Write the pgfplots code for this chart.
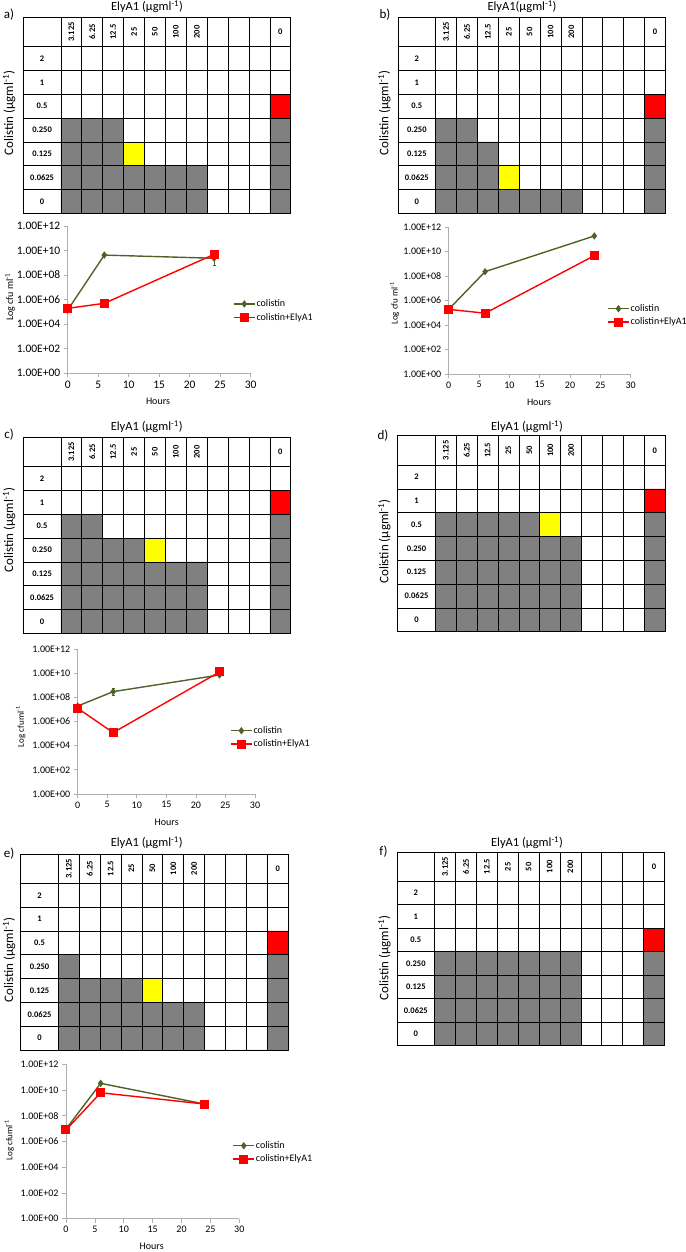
\documentclass[border=0pt]{standalone}
\usepackage{fontspec}
\setmainfont{Carlito}
\usepackage{pgfplots}
\pgfplotsset{compat=1.18}

\definecolor{cellgray}{RGB}{128,128,128}
\definecolor{cellyel}{RGB}{255,255,0}
\definecolor{cellred}{RGB}{255,0,0}
\definecolor{colgreen}{RGB}{79,98,40}
\definecolor{colred}{RGB}{255,0,0}
\definecolor{axgray}{RGB}{175,175,175}

\newcommand{\fs}[1]{\fontsize{#1}{#1}\selectfont}

\pgfplotsset{
  legend image code/.code={
    \draw[#1, mark=none] (0pt,0pt) -- (21pt,0pt);
    \draw[#1] plot coordinates {(10.5pt,0pt)};
  },
}
\pgfplotsset{
  checker/.style={
    scale only axis, width=267.5pt, height=196pt,
    xmin=-1.8, xmax=11, ymin=0, ymax=8.235,
    xtick={0,...,10}, ytick={1,...,7},
    xticklabels={}, yticklabels={},
    major tick length=0pt,
    grid=major, grid style={black, line width=0.7pt},
    axis line style={black, line width=0.8pt},
    axis on top, clip=false,
    after end axis/.code={
      \foreach \lab [count=\i from 0] in {3.125,6.25,12.5,25,50,100,200} {
        \pgfmathsetmacro\xx{\i+0.5}
        \node[rotate=90, font=\fs{8.5}\bfseries] at (axis cs:\xx,7.62) {\lab};
      }
      \node[font=\fs{8.5}\bfseries] at (axis cs:10.5,7.62) {0};
      \foreach \lab [count=\j from 0] in {0,0.0625,0.125,0.250,0.5,1,2} {
        \pgfmathsetmacro\yy{\j+0.5}
        \node[font=\fs{8.5}\bfseries] at (axis cs:-0.9,\yy) {\lab};
      }
    },
  },
  % growth curves: y holds log10(cfu/ml), labelled as in the original
  growth/.style={
    scale only axis,
    xmin=0, xmax=30, ymin=0, ymax=12,
    xtick={0,5,...,30},
    ytick={0,2,...,12},
    yticklabels={1.00E+00,1.00E+02,1.00E+04,1.00E+06,1.00E+08,1.00E+10,1.00E+12},
    axis x line*=bottom, axis y line*=left,
    axis line style={axgray, line width=0.7pt},
    tick style={axgray, line width=0.7pt},
    tick align=outside, major tick length=4pt,
    clip=false,
    legend style={draw=none, fill=none, anchor=west, inner sep=0pt,
      row sep=3pt, font=\fs{10}, nodes={inner sep=1pt}},
    legend cell align=left,
    /pgf/number format/assume math mode=true,
  },
  colline/.style={colgreen, line width=1.4pt, mark=diamond*, mark size=2.6pt},
  comboline/.style={colred, line width=1.4pt, mark=square*, mark size=3.8pt},
  errs/.style={error bars/.cd, y dir=both, y explicit,
    error bar style={colgreen, line width=0.6pt},
    error mark options={colgreen, line width=0.6pt, mark size=1.5pt, rotate=90}},
}

\begin{document}
\begin{tikzpicture}[x=1pt, y=1pt]
\useasboundingbox (0,0) rectangle (685,1252);

% ---------- a) ----------
\begin{axis}[checker, at={(23.3pt,1038.7pt)}]
\addplot[const plot, fill=cellgray, draw=none] coordinates {(0,4) (1,4) (2,4) (3,2) (4,2) (5,2) (6,2) (7,0) (8,0) (9,0) (10,4) (11,4)} \closedcycle;
\addplot[fill=cellyel, draw=none] coordinates {(3,2) (4,2) (4,3) (3,3) (3,2)};
\addplot[fill=cellred, draw=none] coordinates {(10,4) (11,4) (11,5) (10,5) (10,4)};
\end{axis}

\begin{axis}[growth, at={(67.7pt,878.7pt)}, width=183pt, height=147.3pt,
  tick label style={font=\fs{11.5}},
  legend style={at={(0.903,0.425)}}]
\addplot[colline, errs] coordinates {(0,5.15) +- (0,0) (6,9.63) +- (0,0) (24,9.37) += (0,0.67) -= (0,0.61)};
\addplot[comboline] coordinates {(0,5.29) (6,5.70) (24,9.69)};
\legend{colistin,colistin+ElyA1}
\end{axis}

% ---------- b) ----------
\begin{axis}[checker, at={(398pt,1038.7pt)}]
\addplot[const plot, fill=cellgray, draw=none] coordinates {(0,4) (1,4) (2,3) (3,1) (4,1) (5,1) (6,1) (7,0) (8,0) (9,0) (10,4) (11,4)} \closedcycle;
\addplot[fill=cellyel, draw=none] coordinates {(3,1) (4,1) (4,2) (3,2) (3,1)};
\addplot[fill=cellred, draw=none] coordinates {(10,4) (11,4) (11,5) (10,5) (10,4)};
\end{axis}

\begin{axis}[growth, at={(448.7pt,878pt)}, width=182pt, height=146.7pt,
  tick label style={font=\fs{10}},
  legend style={at={(0.870,0.399)}}]
\addplot[colline] coordinates {(0,5.29) (6,8.37) (24,11.29)};
\addplot[comboline] coordinates {(0,5.29) (6,4.97) (24,9.68)};
\legend{colistin,colistin+ElyA1}
\end{axis}

% ---------- c) ----------
\begin{axis}[checker, at={(23.3pt,618.7pt)}]
\addplot[const plot, fill=cellgray, draw=none] coordinates {(0,5) (1,5) (2,4) (3,4) (4,3) (5,3) (6,3) (7,0) (8,0) (9,0) (10,5) (11,5)} \closedcycle;
\addplot[fill=cellyel, draw=none] coordinates {(4,3) (5,3) (5,4) (4,4) (4,3)};
\addplot[fill=cellred, draw=none] coordinates {(10,5) (11,5) (11,6) (10,6) (10,5)};
\end{axis}

\begin{axis}[growth, at={(77.7pt,458pt)}, width=177.3pt, height=145pt,
  tick label style={font=\fs{10}},
  legend style={at={(0.859,0.390)}}]
\addplot[colline, errs] coordinates {(0,7.28) +- (0,0) (6,8.47) +- (0,0.3) (24,9.85) +- (0,0)};
\addplot[comboline] coordinates {(0,7.09) (6,5.08) (24,10.10)};
\legend{colistin,colistin+ElyA1}
\end{axis}

% ---------- d) ----------
\begin{axis}[checker, at={(397.7pt,620.3pt)}]
\addplot[const plot, fill=cellgray, draw=none] coordinates {(0,5) (1,5) (2,5) (3,5) (4,5) (5,4) (6,4) (7,0) (8,0) (9,0) (10,5) (11,5)} \closedcycle;
\addplot[fill=cellyel, draw=none] coordinates {(5,4) (6,4) (6,5) (5,5) (5,4)};
\addplot[fill=cellred, draw=none] coordinates {(10,5) (11,5) (11,6) (10,6) (10,5)};
\end{axis}

% ---------- e) ----------
\begin{axis}[checker, at={(20.7pt,202pt)}]
\addplot[const plot, fill=cellgray, draw=none] coordinates {(0,4) (1,3) (2,3) (3,3) (4,2) (5,2) (6,2) (7,0) (8,0) (9,0) (10,4) (11,4)} \closedcycle;
\addplot[fill=cellyel, draw=none] coordinates {(4,2) (5,2) (5,3) (4,3) (4,2)};
\addplot[fill=cellred, draw=none] coordinates {(10,4) (11,4) (11,5) (10,5) (10,4)};
\end{axis}

\begin{axis}[growth, at={(66pt,33.3pt)}, width=173.3pt, height=154.4pt,
  tick label style={font=\fs{10}},
  legend style={at={(0.960,0.429)}}]
\addplot[colline] coordinates {(0,6.97) (6,10.52) (24,8.91)};
\addplot[comboline] coordinates {(0,6.90) (6,9.79) (24,8.91)};
\legend{colistin,colistin+ElyA1}
\end{axis}

% ---------- f) ----------
\begin{axis}[checker, at={(397pt,206.7pt)}, height=193pt]
\addplot[const plot, fill=cellgray, draw=none] coordinates {(0,4) (1,4) (2,4) (3,4) (4,4) (5,4) (6,4) (7,0) (8,0) (9,0) (10,4) (11,4)} \closedcycle;
\addplot[fill=cellred, draw=none] coordinates {(10,4) (11,4) (11,5) (10,5) (10,4)};
\end{axis}

% titles, panel letters, axis labels
\node[font=\fs{12.5}] at (147,1245.3) {ElyA1 (µgml\textsuperscript{-1})};
\node[font=\fs{12.5}] at (522,1245.3) {ElyA1(µgml\textsuperscript{-1})};
\node[font=\fs{12.5}] at (146.7,825) {ElyA1 (µgml\textsuperscript{-1})};
\node[font=\fs{12.5}] at (527,825) {ElyA1 (µgml\textsuperscript{-1})};
\node[font=\fs{12.5}] at (146.7,409.3) {ElyA1 (µgml\textsuperscript{-1})};
\node[font=\fs{12.5}] at (527,409.3) {ElyA1 (µgml\textsuperscript{-1})};

\node[font=\fs{13}] at (9,1237) {a)};
\node[font=\fs{13}] at (385,1237) {b)};
\node[font=\fs{13}] at (9,817) {c)};
\node[font=\fs{13}] at (383,816.5) {d)};
\node[font=\fs{13}] at (9,398) {e)};
\node[font=\fs{13}] at (383.5,400) {f)};

\node[font=\fs{13}, rotate=90] at (9.2,1139) {Colistin (µgml\textsuperscript{-1})};
\node[font=\fs{13}, rotate=90] at (384.5,1139) {Colistin (µgml\textsuperscript{-1})};
\node[font=\fs{13}, rotate=90] at (9.2,722) {Colistin (µgml\textsuperscript{-1})};
\node[font=\fs{13}, rotate=90] at (384.5,710.3) {Colistin (µgml\textsuperscript{-1})};
\node[font=\fs{13}, rotate=90] at (9.2,292) {Colistin (µgml\textsuperscript{-1})};
\node[font=\fs{13}, rotate=90] at (384.5,294) {Colistin (µgml\textsuperscript{-1})};

\node[font=\fs{10}, rotate=90] at (10,955) {Log cfu ml\textsuperscript{-1}};
\node[font=\fs{9}, rotate=90] at (394.5,948.7) {Log cfu ml\textsuperscript{-1}};
\node[font=\fs{9}, rotate=90] at (20.7,525.3) {Log cfuml\textsuperscript{-1}};
\node[font=\fs{9}, rotate=90] at (9.3,112) {Log cfuml\textsuperscript{-1}};

\node[font=\fs{10}] at (158,851) {Hours};
\node[font=\fs{10}] at (539,849.3) {Hours};
\node[font=\fs{10}] at (166.7,429.3) {Hours};
\node[font=\fs{10}] at (151.7,5.3) {Hours};
\end{tikzpicture}
\end{document}
